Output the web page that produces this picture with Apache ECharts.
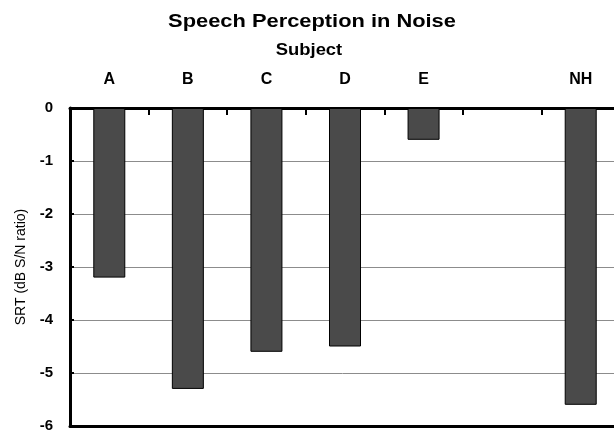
<!DOCTYPE html>
<html><head><meta charset="utf-8">
<script src="https://cdn.jsdelivr.net/npm/echarts@6/dist/echarts.min.js"></script>
<style>html,body{margin:0;padding:0;background:#fff}#c{width:614px;height:431px}</style>
</head><body><div id="c"></div>
<script>
const categories = ['A', 'B', 'C', 'D', 'E', '', 'NH'];
const srtValues = [-3.2, -5.3, -4.6, -4.5, -0.6, null, -5.6];
const yTicks = [0, -1, -2, -3, -4, -5, -6];

const chart = echarts.init(document.getElementById('c'));
const font = 'Liberation Sans, Arial, sans-serif';
chart.setOption({
  animation: false,
  graphic: [
    {type: 'text', x: 312, y: 22, scaleX: 1.15,
     style: {text: 'Speech Perception in Noise', font: 'bold 19px ' + font, fill: '#000',
             textAlign: 'center', textVerticalAlign: 'middle', verticalAlign: 'middle'}},
    {type: 'text', x: 309, y: 51, scaleX: 1.15,
     style: {text: 'Subject', font: 'bold 16px ' + font, fill: '#000',
             textAlign: 'center', textVerticalAlign: 'middle', verticalAlign: 'middle'}}
  ],
  grid: {left: 70, width: 550, top: 108, bottom: 5, containLabel: false, outerBoundsMode: 'none'},
  xAxis: [
    {type: 'category', data: categories, position: 'top',
     axisLine: {lineStyle: {color: '#000', width: 3}},
     axisTick: {show: true, inside: true, length: 7, lineStyle: {color: '#000', width: 2}},
     axisLabel: {fontFamily: font, fontSize: 16, fontWeight: 'bold', color: '#000', margin: 20}},
    {type: 'category', data: categories, position: 'bottom',
     axisLine: {lineStyle: {color: '#000', width: 3}},
     axisTick: {show: false}, axisLabel: {show: false}}
  ],
  yAxis: {
    type: 'value', min: -6, max: 0, interval: 1,
    name: 'SRT (dB S/N ratio)', nameLocation: 'middle', nameGap: 42, nameRotate: 90,
    nameTextStyle: {fontFamily: font, fontSize: 14, color: '#000'},
    axisLine: {show: true, lineStyle: {color: '#000', width: 3}},
    axisTick: {show: true, inside: true, length: 4, lineStyle: {color: '#000', width: 2}},
    axisLabel: {fontFamily: font, fontSize: 15, fontWeight: 'bold', color: '#000', margin: 17,
      formatter: v => yTicks.includes(v) ? String(v) : ''},
    splitLine: {show: true, lineStyle: {color: '#8c8c8c', width: 1}}
  },
  series: [{
    type: 'bar', data: srtValues, xAxisIndex: 0, barWidth: 32,
    itemStyle: {color: '#4a4a4a', borderColor: '#000', borderWidth: 1}
  }]
});
</script></body></html>
